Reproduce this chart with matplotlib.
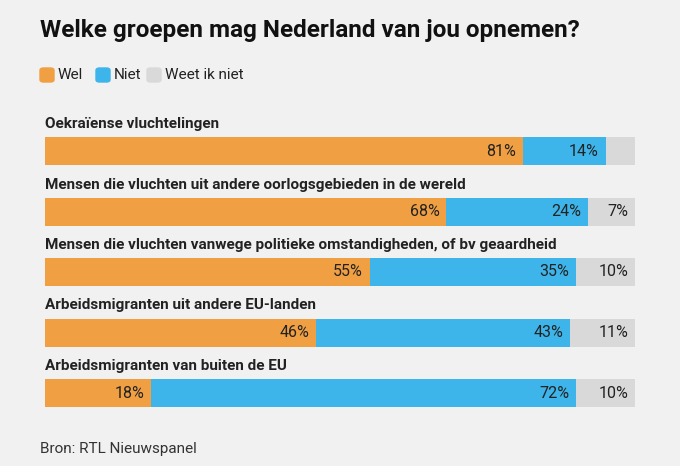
import matplotlib.pyplot as plt
from matplotlib.patches import FancyBboxPatch

categories = [
    "Oekraïense vluchtelingen",
    "Mensen die vluchten uit andere oorlogsgebieden in de wereld",
    "Mensen die vluchten vanwege politieke omstandigheden, of bv geaardheid",
    "Arbeidsmigranten uit andere EU-landen",
    "Arbeidsmigranten van buiten de EU",
]
wel = [81, 68, 55, 46, 18]
niet = [14, 24, 35, 43, 72]
weet = [5, 8, 10, 11, 10]
weet_label = ["", "7%", "10%", "11%", "10%"]

BG = "#f1f1f1"
ORANGE = "#f0a043"
BLUE = "#3db5ea"
GREY = "#d9d9d9"
TXT = "#222222"

plt.rcParams['font.family'] = ['Roboto', 'DejaVu Sans']
fig = plt.figure(figsize=(6.8, 4.66), dpi=100, facecolor=BG)
W, H = 680, 466

ax = fig.add_axes([45 / W, 1 - 420 / H, 590 / W, 320 / H])
ax.set_facecolor(BG)
ax.set_xlim(0, 100)
sp = 60.5
ax.set_ylim(4 + 27 / sp, -51 / sp)
ax.axis("off")

h = 28 / sp
for i, cat in enumerate(categories):
    ax.barh(i, wel[i], height=h, color=ORANGE)
    ax.barh(i, niet[i], left=wel[i], height=h, color=BLUE)
    ax.barh(i, weet[i], left=wel[i] + niet[i], height=h, color=GREY)
    ax.text(wel[i] - 1.1, i, f"{wel[i]}%", ha="right", va="center", fontsize=11.5, color=TXT)
    ax.text(wel[i] + niet[i] - 1.1, i, f"{niet[i]}%", ha="right", va="center", fontsize=11.5, color=TXT)
    ax.text(100 - 1.1, i, weet_label[i], ha="right", va="center", fontsize=11.5, color=TXT)
    ax.text(0, i - h / 2 - 6 / sp, cat, ha="left", va="bottom", fontsize=11, fontweight="bold", color=TXT)

fig.text(40 / W, 1 - 30 / H, "Welke groepen mag Nederland van jou opnemen?",
         fontsize=17.5, fontweight="bold", color="#111111", va="center", ha="left")

# legend
lx = [40, 96, 147]
labels = ["Wel", "Niet", "Weet ik niet"]
colors = [ORANGE, BLUE, GREY]
for x, lab, c in zip(lx, labels, colors):
    fig.patches.append(FancyBboxPatch((x / W, 1 - 82 / H), 14 / W, 14 / H,
                                      boxstyle="round,pad=0,rounding_size=0.005",
                                      transform=fig.transFigure, color=c))
    fig.text((x + 18) / W, 1 - 75 / H, lab, fontsize=11, va="center", ha="left", color=TXT)

fig.text(40 / W, 1 - 449 / H, "Bron: RTL Nieuwspanel", fontsize=11, va="center", ha="left", color="#333333")

fig.savefig("out.png", dpi=100, facecolor=BG)
